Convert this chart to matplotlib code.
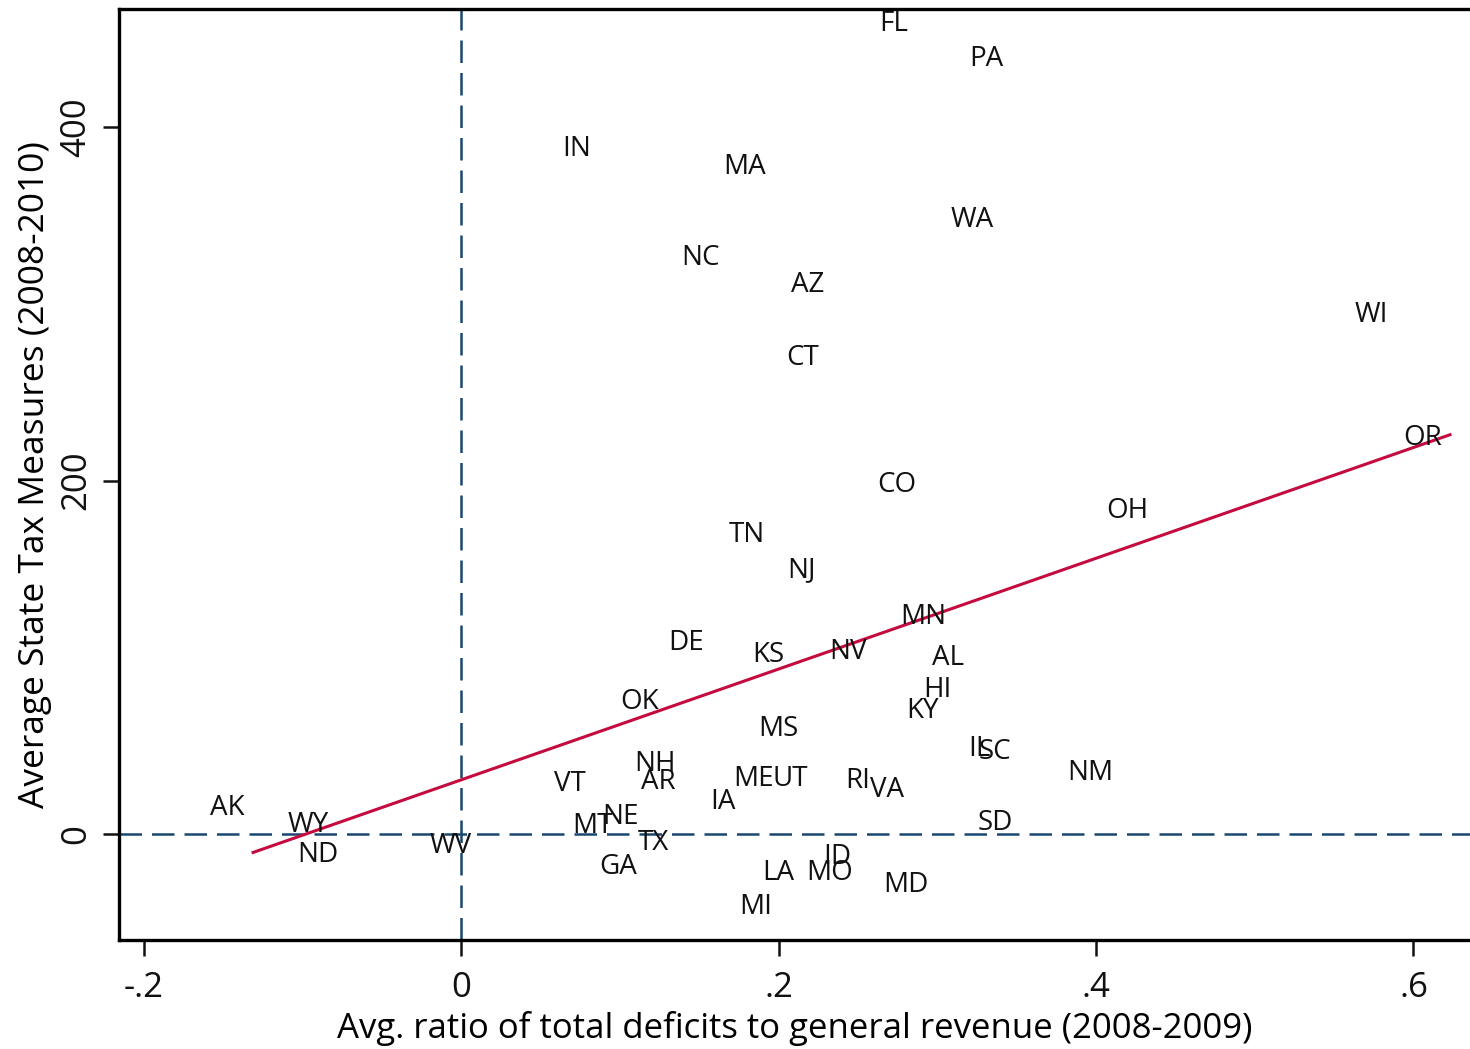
import matplotlib
matplotlib.use("Agg")
import matplotlib.pyplot as plt
import numpy as np

plt.rcParams['font.family'] = ['Open Sans', 'DejaVu Sans']

# state labels and values (deficit ratio, tax measures)
states = ["AK", "WY", "ND", "WV", "VT", "NH", "AR", "MT", "NE", "TX",
          "GA", "IA", "ME", "UT", "MS", "LA", "MO", "ID", "MI", "RI",
          "VA", "IL", "SC", "SD", "MD", "MN", "NV", "AL", "HI", "KY",
          "NM", "WI", "OR", "OH", "FL", "PA", "IN", "MA", "WA", "NC",
          "AZ", "CT", "CO", "TN", "NJ", "DE", "KS", "OK"]
deficit = [-0.131, -0.078, -0.072, 0.012, 0.084, 0.1405, 0.1405, 0.101, 0.117, 0.136,
           0.116, 0.178, 0.202, 0.224, 0.218, 0.215, 0.252, 0.251, 0.201, 0.263,
           0.284, 0.339, 0.352, 0.353, 0.300, 0.311, 0.261, 0.322, 0.314, 0.306,
           0.416, 0.589, 0.623, 0.438, 0.287, 0.347, 0.087, 0.197, 0.341, 0.168,
           0.234, 0.231, 0.292, 0.197, 0.229, 0.158, 0.209, 0.130]
taxes = [16.4, 6.8, -10.2, -5.1, 30.0, 41.3, 31.1, 6.2, 11.3, -3.4,
         -17.0, 19.8, 32.8, 32.8, 61.1, -20.4, -20.4, -11.3, -39.6, 31.7,
         26.6, 49.8, 48.1, 7.9, -27.2, 124.5, 104.7, 101.3, 83.2, 71.3,
         36.2, 295.3, 225.7, 184.4, 460.0, 440.2, 389.2, 379.1, 349.1, 327.6,
         312.3, 271.0, 199.2, 170.9, 151.1, 109.8, 103.0, 76.4]

# fitted line as shown in the chart (intercept, slope)
fit_intercept = 30.6
fit_slope = 313.5

xticks = [-0.2, 0, 0.2, 0.4, 0.6]
xticklabels = ["-.2", "0", ".2", ".4", ".6"]
yticks = [0, 200, 400]

x = np.array(deficit)
y = np.array(taxes)

fig = plt.figure(figsize=(14.7, 10.49), dpi=100)
ax = fig.add_axes([0.081, 0.1039, 0.919, 0.8875])

navy = "#1a476f"
ax.axvline(0, color=navy, lw=1.8, linestyle=(0, (9, 4)), zorder=1)
ax.axhline(0, color=navy, lw=1.8, linestyle=(0, (9, 4)), zorder=1)

# labels sit to the left of each point (no marker)
for s, xi, yi in zip(states, x, y):
    ax.annotate(s, (xi, yi), xytext=(-6, -2), textcoords="offset points",
                ha="right", va="center", fontsize=20, color="#111111", zorder=3)

xf = np.array([x.min(), x.max()])
ax.plot(xf, fit_intercept + fit_slope * xf, color="#c40a3e", lw=2.2, zorder=2)

ax.set_xlim(-0.2154, 0.6356)
ax.set_ylim(-60, 466.8)
ax.set_xticks(xticks)
ax.set_xticklabels(xticklabels)
ax.set_yticks(yticks)
ax.set_yticklabels([str(v) for v in yticks], rotation=90, va="center")

for sp in ["left", "bottom", "top"]:
    ax.spines[sp].set_linewidth(2.4)
ax.spines["right"].set_visible(False)
ax.tick_params(length=11.5, width=1.8, labelsize=25, colors="#111111")
ax.tick_params(axis="x", pad=11)
ax.tick_params(axis="y", pad=7)

ax.set_xlabel("Avg. ratio of total deficits to general revenue (2008-2009)", fontsize=25, labelpad=4)
ax.set_ylabel("Average State Tax Measures (2008-2010)", fontsize=25.5, labelpad=5)

fig.savefig("out.png", dpi=100)
